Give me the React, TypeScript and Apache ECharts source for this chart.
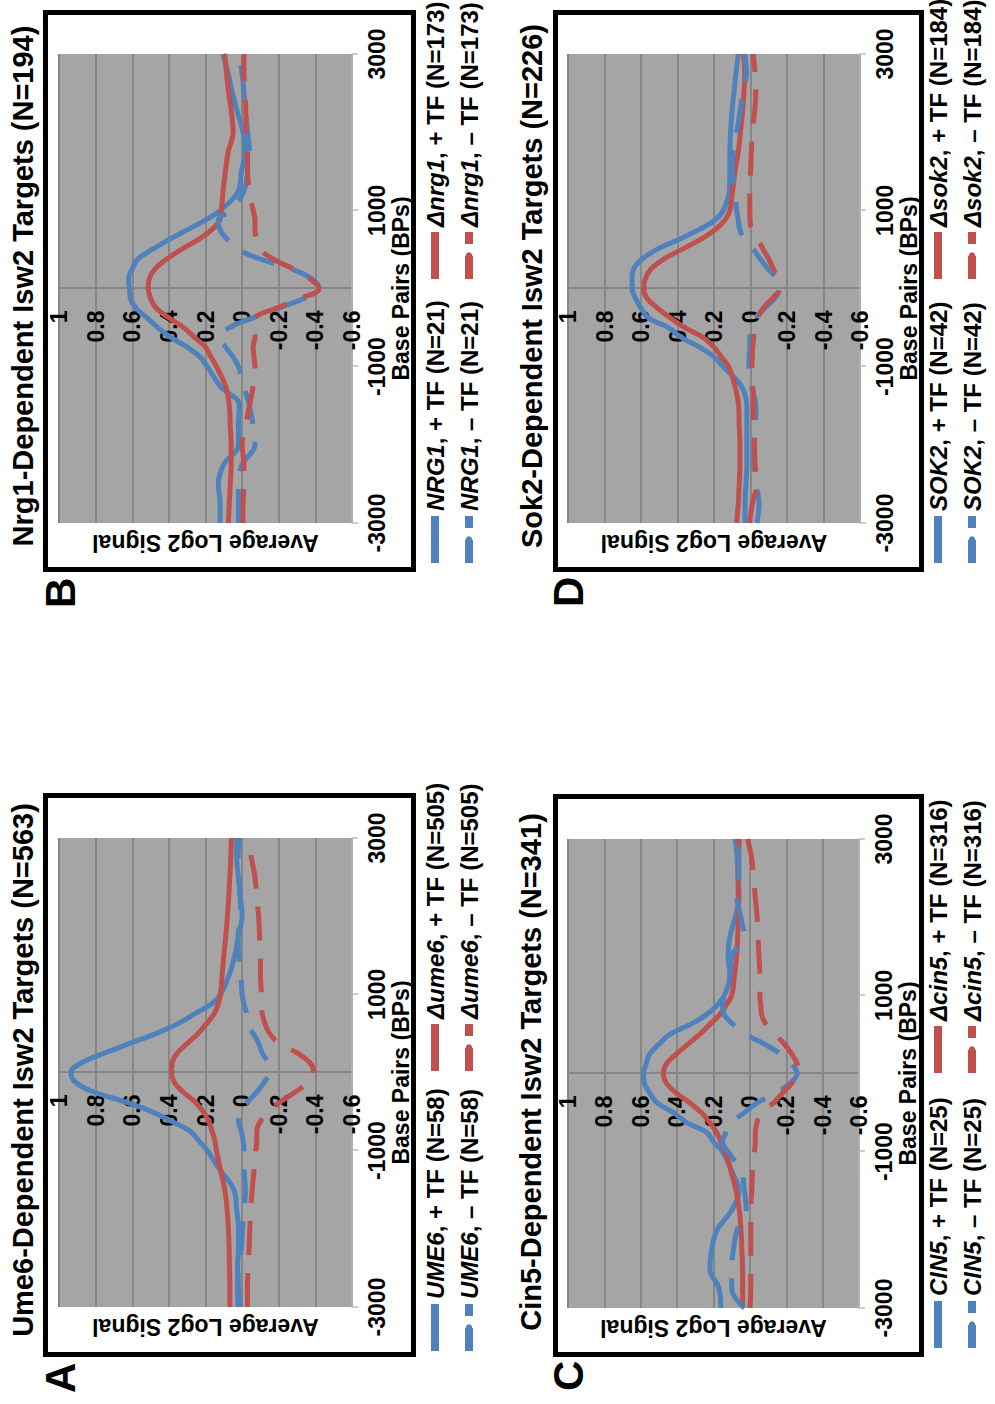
import React, { useEffect, useRef } from 'react';
import * as echarts from 'echarts';

// Base-pair positions (x axis of every panel)
const BP = [-3000, -2750, -2500, -2250, -2000, -1750, -1500, -1250, -1000, -875, -750, -625, -500, -375, -250, -125, 0, 125, 250, 375, 500, 625, 750, 875, 1000, 1250, 1500, 1750, 2000, 2250, 2500, 2750, 3000];
const BP_TICKS = [-3000, -1000, 1000, 3000];

// Panel A – Ume6
const UME6_PLUS = [0.01, 0.02, 0.025, 0.02, 0.02, 0.03, 0.045, 0.12, 0.19, 0.236, 0.285, 0.385, 0.495, 0.64, 0.81, 0.91, 0.935, 0.876, 0.75, 0.61, 0.467, 0.35, 0.26, 0.167, 0.118, 0.07, 0.04, 0.02, 0.0, 0.01, 0.02, 0.03, 0.03];
const DUME6_PLUS = [0.067, 0.067, 0.069, 0.071, 0.075, 0.082, 0.095, 0.118, 0.14, 0.149, 0.164, 0.182, 0.213, 0.258, 0.322, 0.371, 0.385, 0.382, 0.353, 0.298, 0.24, 0.195, 0.153, 0.131, 0.118, 0.109, 0.1, 0.089, 0.08, 0.073, 0.067, 0.062, 0.058];
const UME6_MINUS = [0.022, 0.025, 0.018, 0.004, -0.002, -0.011, -0.018, -0.011, -0.011, -0.005, 0.004, 0.02, 0.02, -0.03, -0.08, -0.12, -0.15, -0.14, -0.11, -0.09, -0.06, -0.03, -0.025, -0.01, 0.0, 0.007, 0.018, 0.022, 0.007, 0.011, 0.018, 0.022, 0.013];
const DUME6_MINUS = [-0.029, -0.029, -0.033, -0.038, -0.042, -0.047, -0.055, -0.065, -0.075, -0.08, -0.08, -0.1, -0.14, -0.21, -0.29, -0.36, -0.39, -0.37, -0.3, -0.2, -0.15, -0.125, -0.11, -0.105, -0.105, -0.1, -0.1, -0.095, -0.09, -0.08, -0.07, -0.05, -0.03];

// Panel B – Nrg1
const NRG1_PLUS = [0.12, 0.12, 0.13, 0.1, 0.02, 0.02, 0.015, 0.12, 0.19, 0.23, 0.3, 0.39, 0.46, 0.52, 0.58, 0.61, 0.615, 0.62, 0.6, 0.57, 0.49, 0.4, 0.3, 0.2, 0.12, 0.02, 0.004, -0.018, -0.005, 0.025, 0.053, 0.076, 0.104];
const DNRG1_PLUS = [0.075, 0.07, 0.065, 0.06, 0.06, 0.065, 0.07, 0.09, 0.14, 0.17, 0.2, 0.26, 0.32, 0.4, 0.47, 0.5, 0.513, 0.507, 0.476, 0.413, 0.331, 0.24, 0.167, 0.122, 0.113, 0.104, 0.091, 0.076, 0.049, 0.058, 0.073, 0.085, 0.095];
const NRG1_MINUS = [0.02, 0.02, 0.02, 0.0, -0.07, -0.06, -0.04, -0.01, 0.02, 0.05, 0.09, 0.12, 0.07, -0.06, -0.2, -0.34, -0.42, -0.38, -0.27, -0.1, 0.02, 0.08, 0.12, 0.13, 0.06, -0.01, -0.03, -0.04, -0.03, -0.02, -0.01, 0.0, 0.02];
const DNRG1_MINUS = [-0.005, -0.005, -0.01, -0.01, 0.0, -0.02, -0.04, -0.06, -0.07, -0.065, -0.06, -0.07, -0.06, -0.07, -0.19, -0.32, -0.42, -0.37, -0.28, -0.17, -0.1, -0.08, -0.07, -0.07, -0.06, -0.04, -0.03, -0.03, -0.02, -0.02, -0.015, -0.01, -0.01];

// Panel C – Cin5
const CIN5_PLUS = [0.16, 0.17, 0.22, 0.21, 0.18, 0.1, 0.06, 0.1, 0.15, 0.2, 0.24, 0.35, 0.42, 0.51, 0.55, 0.58, 0.585, 0.57, 0.55, 0.5, 0.44, 0.33, 0.24, 0.18, 0.14, 0.11, 0.12, 0.11, 0.08, 0.06, 0.065, 0.07, 0.08];
const DCIN5_PLUS = [0.04, 0.04, 0.04, 0.044, 0.049, 0.058, 0.076, 0.104, 0.136, 0.158, 0.185, 0.222, 0.267, 0.331, 0.404, 0.458, 0.476, 0.458, 0.404, 0.34, 0.276, 0.222, 0.167, 0.131, 0.1, 0.085, 0.073, 0.067, 0.064, 0.064, 0.064, 0.062, 0.058];
const CIN5_MINUS = [0.03, 0.1, 0.1, 0.09, 0.07, 0.02, 0.03, 0.05, 0.12, 0.15, 0.13, 0.1, 0.03, -0.04, -0.14, -0.22, -0.26, -0.23, -0.17, -0.08, 0.02, 0.09, 0.14, 0.15, 0.14, 0.11, 0.1, 0.03, 0.05, 0.07, 0.06, 0.06, 0.08];
const DCIN5_MINUS = [0.0, -0.005, -0.005, -0.005, -0.005, -0.005, -0.01, -0.015, -0.025, -0.03, -0.03, -0.04, -0.06, -0.13, -0.18, -0.23, -0.27, -0.26, -0.23, -0.19, -0.14, -0.09, -0.065, -0.06, -0.055, -0.055, -0.05, -0.045, -0.04, -0.03, -0.02, -0.01, 0.013];

// Panel D – Sok2
const SOK2_PLUS = [0.03, 0.03, 0.025, 0.02, 0.02, 0.02, 0.02, 0.05, 0.15, 0.2, 0.28, 0.38, 0.45, 0.56, 0.6, 0.63, 0.649, 0.649, 0.64, 0.595, 0.513, 0.395, 0.285, 0.195, 0.149, 0.116, 0.113, 0.113, 0.109, 0.102, 0.091, 0.08, 0.067];
const DSOK2_PLUS = [0.076, 0.067, 0.062, 0.058, 0.058, 0.062, 0.065, 0.085, 0.12, 0.16, 0.2, 0.26, 0.36, 0.44, 0.51, 0.567, 0.585, 0.576, 0.545, 0.476, 0.376, 0.276, 0.195, 0.14, 0.113, 0.098, 0.085, 0.067, 0.055, 0.044, 0.036, 0.031, 0.04];
const SOK2_MINUS = [-0.036, -0.047, -0.029, -0.018, -0.018, -0.029, -0.029, -0.005, 0.009, 0.007, 0.004, 0.004, -0.005, -0.029, -0.078, -0.133, -0.16, -0.142, -0.096, -0.055, -0.015, 0.031, 0.058, 0.067, 0.076, 0.085, 0.1, 0.095, 0.076, 0.058, 0.044, 0.022, 0.031];
const DSOK2_MINUS = [0.005, -0.01, -0.035, -0.025, -0.022, -0.018, -0.015, -0.014, -0.007, -0.01, -0.012, -0.018, -0.025, -0.04, -0.07, -0.12, -0.16, -0.15, -0.125, -0.1, -0.07, -0.04, -0.005, 0.002, 0.004, 0.004, 0.0, -0.005, -0.01, -0.022, -0.029, -0.025, -0.015];

const TITLES = [
  'Ume6-Dependent Isw2 Targets (N=563)',
  'Nrg1-Dependent Isw2 Targets (N=194)',
  'Cin5-Dependent Isw2 Targets (N=341)',
  'Sok2-Dependent Isw2 Targets (N=226)',
];
const LETTERS = ['A', 'B', 'C', 'D'];
const WT_NAMES = ['UME6', 'NRG1', 'CIN5', 'SOK2'];
const DEL_NAMES = ['\u0394ume6', '\u0394nrg1', '\u0394cin5', '\u0394sok2'];
const WT_N = [58, 21, 25, 42];
const DEL_N = [505, 173, 316, 184];
const SERIES_VALUES = [
  [UME6_PLUS, DUME6_PLUS, UME6_MINUS, DUME6_MINUS],
  [NRG1_PLUS, DNRG1_PLUS, NRG1_MINUS, DNRG1_MINUS],
  [CIN5_PLUS, DCIN5_PLUS, CIN5_MINUS, DCIN5_MINUS],
  [SOK2_PLUS, DSOK2_PLUS, SOK2_MINUS, DSOK2_MINUS],
];

const FONT = '"Liberation Sans", Arial, Helvetica, sans-serif';
const BLUE = '#4f81bd';
const RED = '#c0504d';
const PLOT_DASH = [34, 18];
const LEGEND_DASH = [23, 12];

// layout in the un-rotated (1404 x 995) frame
const LAYOUT = [
  { grid: { left: 97, top: 59, width: 469, height: 293 }, box: [49.5, 45.5, 559, 368], title: [334, 23], letter: [11, 60], leg: [[49, 423], [329, 423]] },
  { grid: { left: 881, top: 59, width: 469, height: 293 }, box: [834.5, 45.5, 557, 368], title: [1118, 23], letter: [796, 60], leg: [[837, 423], [1121, 423]] },
  { grid: { left: 96, top: 568, width: 469, height: 291 }, box: [49.5, 555.5, 558, 366], title: [332, 531], letter: [13, 568], leg: [[52, 926], [327, 926]] },
  { grid: { left: 881, top: 568, width: 469, height: 292 }, box: [834.5, 555.5, 557, 366], title: [1118, 532], letter: [797, 568], leg: [[837, 926], [1121, 926]] },
];

function buildOption() {
  const grid: any[] = [];
  const xAxis: any[] = [];
  const yAxis: any[] = [];
  const series: any[] = [];
  const legend: any[] = [];
  const graphic: any[] = [];

  const rich = {
    g: { fontStyle: 'italic', fontWeight: 'bold', fontSize: 24, fontFamily: FONT, color: '#000', lineHeight: 28 },
    t: { fontWeight: 'bold', fontSize: 24, fontFamily: FONT, color: '#000', lineHeight: 28 },
  };
  const fmt = (name: string) => {
    const i = name.indexOf(',');
    return `{g|${name.slice(0, i)}}{t|${name.slice(i)}}`;
  };

  for (let p = 0; p < 4; p++) {
    const L = LAYOUT[p];
    grid.push({ ...L.grid, show: true, backgroundColor: '#a5a5a5', borderWidth: 0, containLabel: false, outerBoundsMode: 'none' });
    xAxis.push({
      type: 'value', gridIndex: p, min: -3000, max: 3000, interval: 2000, position: 'bottom',
      name: 'Base Pairs (BPs)', nameLocation: 'middle', nameGap: 37, nameMoveOverlap: false,
      nameTextStyle: { fontFamily: FONT, fontWeight: 'bold', fontSize: 23, color: '#000' },
      axisLine: { show: true, onZero: false, lineStyle: { color: '#bdbdbd', width: 1.5 } },
      axisTick: { show: true, length: 6, inside: false, lineStyle: { color: '#bdbdbd', width: 1.5 } },
      axisLabel: {
        margin: 13, fontFamily: FONT, fontWeight: 'bold', fontSize: 23, color: '#000',
        formatter: (v: number) => (BP_TICKS.indexOf(v) >= 0 ? String(v) : ''),
      },
      splitLine: { show: false },
    });
    // labels sit beside the zero line (centre of the grid)
    const labelMargin = -(L.grid.width / 2 - 22);
    yAxis.push({
      type: 'value', gridIndex: p, min: -0.6, max: 1, interval: 0.2,
      name: 'Average Log2 Signal', nameLocation: 'middle', nameGap: 8, nameMoveOverlap: false,
      nameTextStyle: { fontFamily: FONT, fontWeight: 'bold', fontSize: 23, color: '#000' },
      axisLine: { show: true, onZero: true, lineStyle: { color: '#868686', width: 2 } },
      axisTick: { show: false },
      axisLabel: { margin: labelMargin, align: 'right', fontFamily: FONT, fontWeight: 'bold', fontSize: 23, color: '#000' },
      splitLine: { show: true, lineStyle: { color: '#868686', width: 2 } },
    });

    const names = [
      `${WT_NAMES[p]}, + TF (N=${WT_N[p]})`,
      `${DEL_NAMES[p]}, + TF (N=${DEL_N[p]})`,
      `${WT_NAMES[p]}, \u2013 TF (N=${WT_N[p]})`,
      `${DEL_NAMES[p]}, \u2013 TF (N=${DEL_N[p]})`,
    ];
    const colors = [BLUE, RED, BLUE, RED];
    for (let s = 0; s < 4; s++) {
      const vals = SERIES_VALUES[p][s];
      series.push({
        type: 'line', name: names[s], xAxisIndex: p, yAxisIndex: p,
        data: BP.map((b, i) => [b, vals[i]]),
        symbol: 'none', showSymbol: false, smooth: 0.4,
        lineStyle: { color: colors[s], width: 5, type: s >= 2 ? PLOT_DASH : 'solid' },
        itemStyle: { color: colors[s] },
        z: 2 + s,
      });
    }
    const legCommon = {
      orient: 'vertical', itemWidth: 47, itemHeight: 8, itemGap: 10, padding: 0,
      selectedMode: false,
      lineStyle: { width: 8 },
      formatter: fmt,
      textStyle: { rich, fontFamily: FONT, fontSize: 24, fontWeight: 'bold', color: '#000' },
    };
    legend.push({
      ...legCommon, left: L.leg[0][0], top: L.leg[0][1],
      data: [{ name: names[0] }, { name: names[2], lineStyle: { type: LEGEND_DASH, width: 8 } }],
    });
    legend.push({
      ...legCommon, left: L.leg[1][0], top: L.leg[1][1],
      data: [{ name: names[1] }, { name: names[3], lineStyle: { type: LEGEND_DASH, width: 8 } }],
    });

    graphic.push({
      type: 'rect', shape: { x: L.box[0], y: L.box[1], width: L.box[2], height: L.box[3] },
      style: { fill: 'none', stroke: '#000', lineWidth: 5 }, z: 10, silent: true,
    });
    graphic.push({
      type: 'text', x: L.title[0], y: L.title[1],
      style: { text: TITLES[p], font: `bold 29px ${FONT}`, fill: '#000', textAlign: 'center', textVerticalAlign: 'middle' },
    });
    graphic.push({
      type: 'text', x: L.letter[0], y: L.letter[1],
      style: { text: LETTERS[p], font: `bold 42px ${FONT}`, fill: '#000', textAlign: 'left', textVerticalAlign: 'middle' },
    });
  }

  return {
    animation: false,
    backgroundColor: '#ffffff',
    grid, xAxis, yAxis, series, legend, graphic,
  };
}

export default function App() {
  const ref = useRef<HTMLDivElement>(null);
  useEffect(() => {
    if (!ref.current) return;
    const chart = echarts.init(ref.current, null, { renderer: 'svg', width: 1404, height: 995 });
    chart.setOption(buildOption() as any);
    return () => chart.dispose();
  }, []);
  return (
    <div style={{ position: 'fixed', left: 0, top: 0, width: 995, height: 1404, overflow: 'hidden', background: '#fff' }}>
      <div
        ref={ref}
        style={{
          position: 'absolute', left: 0, top: 0, width: 1404, height: 995,
          transformOrigin: '0 0', transform: 'translate(0px, 1404px) rotate(-90deg)',
        }}
      />
    </div>
  );
}
